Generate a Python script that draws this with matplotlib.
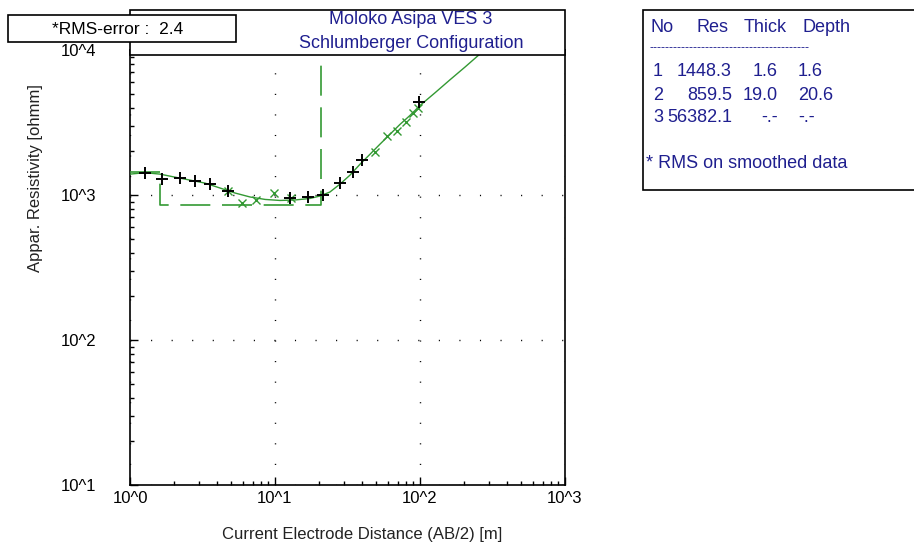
import numpy as np
import matplotlib
matplotlib.use("Agg")
import matplotlib.pyplot as plt
from matplotlib.patches import Rectangle
from matplotlib.ticker import FixedLocator, NullFormatter

plt.rcParams['font.family'] = ['Liberation Sans', 'DejaVu Sans']

# observed sounding data (AB/2 [m], apparent resistivity [ohmm])
obs_ab2 = [1.27, 1.66, 2.21, 2.81, 3.56, 4.74, 12.7, 16.9, 21.4, 28.1, 34.5, 39.8, 98.4]
obs_rho = [1421, 1293, 1314, 1241, 1184, 1065, 958, 969, 995, 1214, 1437, 1756, 4384]

# smoothed data
smo_ab2 = [4.74, 5.92, 7.39, 9.84, 12.9, 48.9, 59.2, 69.4, 80.0, 89.5, 96.9]
smo_rho = [1070, 882, 920, 1037, 955, 1970, 2535, 2745, 3212, 3700, 3961]

# model response curve
fit_ab2 = [1.0, 1.27, 1.61, 2.04, 2.59, 3.29, 4.18, 5.30, 6.73, 8.55, 10.8, 13.7,
           17.4, 20.4, 23.9, 28.1, 32.9, 38.6, 45.2, 52.8, 62.0, 72.6, 85.1, 99.7,
           127, 161, 205, 250, 355]
fit_rho = [1393, 1426, 1393, 1328, 1267, 1208, 1117, 1032, 969, 932, 917, 924,
           946, 984, 1048, 1190, 1371, 1631, 1910, 2235, 2618, 3062, 3530, 4132,
           5072, 6231, 7648, 9100, 12080]

# layered model
layer_no = [1, 2, 3]
layer_res = [1448.3, 859.5, 56382.1]
layer_thick = [1.6, 19.0, None]
layer_depth = [1.6, 20.6, None]

W, H = 914, 547
fig = plt.figure(figsize=(W / 100, H / 100), dpi=100)

def fx(px):
    return px / W

def fy(py):
    return 1 - py / H

ax = fig.add_axes([fx(130), fy(485), fx(565) - fx(130), fy(50) - fy(485)])
ax.set_xscale('log')
ax.set_yscale('log')
ax.set_xlim(1, 1000)
ax.set_ylim(10, 10000)

green = '#339933'

# model steps
step_x = [1.0]
step_y = [layer_res[0]]
for d, r0, r1 in zip(layer_depth[:2], layer_res[:2], layer_res[1:]):
    step_x += [d, d]
    step_y += [r0, r1]
ax.plot(step_x, step_y, color=green, lw=1.2, dashes=(18, 7), zorder=3)

ax.plot(fit_ab2, fit_rho, color=green, lw=1.0, zorder=4)
ax.plot(smo_ab2, smo_rho, ls='none', marker='x', ms=6, mew=1.0, color=green, zorder=5)
ax.plot(obs_ab2, obs_rho, ls='none', marker='+', ms=9, mew=1.4, color='black', zorder=6)

major = [1, 10, 100, 1000]
ax.xaxis.set_major_locator(FixedLocator(major))
ax.set_xticklabels(['10^0', '10^1', '10^2', '10^3'])
ax.yaxis.set_major_locator(FixedLocator([10, 100, 1000, 10000]))
ax.set_yticklabels(['10^1', '10^2', '10^3', '10^4'])
minors_x = [m * 10 ** e for e in range(0, 3) for m in range(2, 10)]
minors_y = [m * 10 ** e for e in range(1, 4) for m in range(2, 10)]
ax.xaxis.set_minor_locator(FixedLocator(minors_x))
ax.yaxis.set_minor_locator(FixedLocator(minors_y))
ax.xaxis.set_minor_formatter(NullFormatter())
ax.yaxis.set_minor_formatter(NullFormatter())
ax.tick_params(which='major', direction='in', length=6, width=1, labelsize=12)
ax.tick_params(which='minor', direction='in', length=3, width=1)
ax.tick_params(axis='x', which='major', pad=4)
ax.tick_params(axis='y', which='major', pad=24)
ax.grid(True, which='major', color='black', lw=1.0, linestyle=(0, (0.8, 14)))
for s in ax.spines.values():
    s.set_linewidth(1.2)

# header box with title
hdr = Rectangle((fx(130), fy(55)), fx(565) - fx(130), fy(10) - fy(55),
                transform=fig.transFigure, facecolor='white', edgecolor='black',
                lw=1.2, zorder=10)
fig.add_artist(hdr)
navy = '#1f1f8f'
fig.text(fx(411), fy(19), 'Moloko Asipa VES 3', color=navy, fontsize=13,
         ha='center', va='center', zorder=11)
fig.text(fx(411), fy(44), 'Schlumberger Configuration', color=navy, fontsize=13,
         ha='center', va='center', zorder=11)

# rms box
rms = Rectangle((fx(8), fy(42)), fx(236) - fx(8), fy(15) - fy(42),
                transform=fig.transFigure, facecolor='white', edgecolor='black',
                lw=1.2, zorder=12)
fig.add_artist(rms)
fig.text(fx(52), fy(29), '*RMS-error :  2.4', color='black', fontsize=12.5,
         ha='left', va='center', zorder=13)

# axis labels
fig.text(fx(362), fy(535), 'Current Electrode Distance (AB/2) [m]', fontsize=12,
         ha='center', va='center', color='#222222')
fig.text(fx(36), fy(178), 'Appar. Resistivity [ohmm]', fontsize=12, rotation=90,
         ha='center', va='center', color='#222222')

# layer table
tbl = Rectangle((fx(643), fy(190)), fx(916) - fx(643), fy(10) - fy(190),
                transform=fig.transFigure, facecolor='white', edgecolor='black',
                lw=1.2, zorder=10)
fig.add_artist(tbl)

def fmt(v):
    return '-.-' if v is None else f'{v:.1f}'

kw = dict(color=navy, fontsize=13, va='center', zorder=11)
fig.text(fx(650), fy(27), 'No', ha='left', **kw)
fig.text(fx(696), fy(27), 'Res', ha='left', **kw)
fig.text(fx(744), fy(27), 'Thick', ha='left', **kw)
fig.text(fx(802), fy(27), 'Depth', ha='left', **kw)
fig.text(fx(650), fy(48), '-' * 40, ha='left', color=navy, fontsize=9, va='center', zorder=11)
for i, (n, r, t, d) in enumerate(zip(layer_no, layer_res, layer_thick, layer_depth)):
    y = fy(72 + 23 * i)
    fig.text(fx(653), y, str(n), ha='left', **kw)
    fig.text(fx(732), y, fmt(r), ha='right', **kw)
    fig.text(fx(778), y, fmt(t), ha='right', **kw)
    fig.text(fx(798), y, fmt(d), ha='left', **kw)
fig.text(fx(646), fy(163), '* RMS on smoothed data', ha='left', **kw)

fig.savefig('out.png', dpi=100)
